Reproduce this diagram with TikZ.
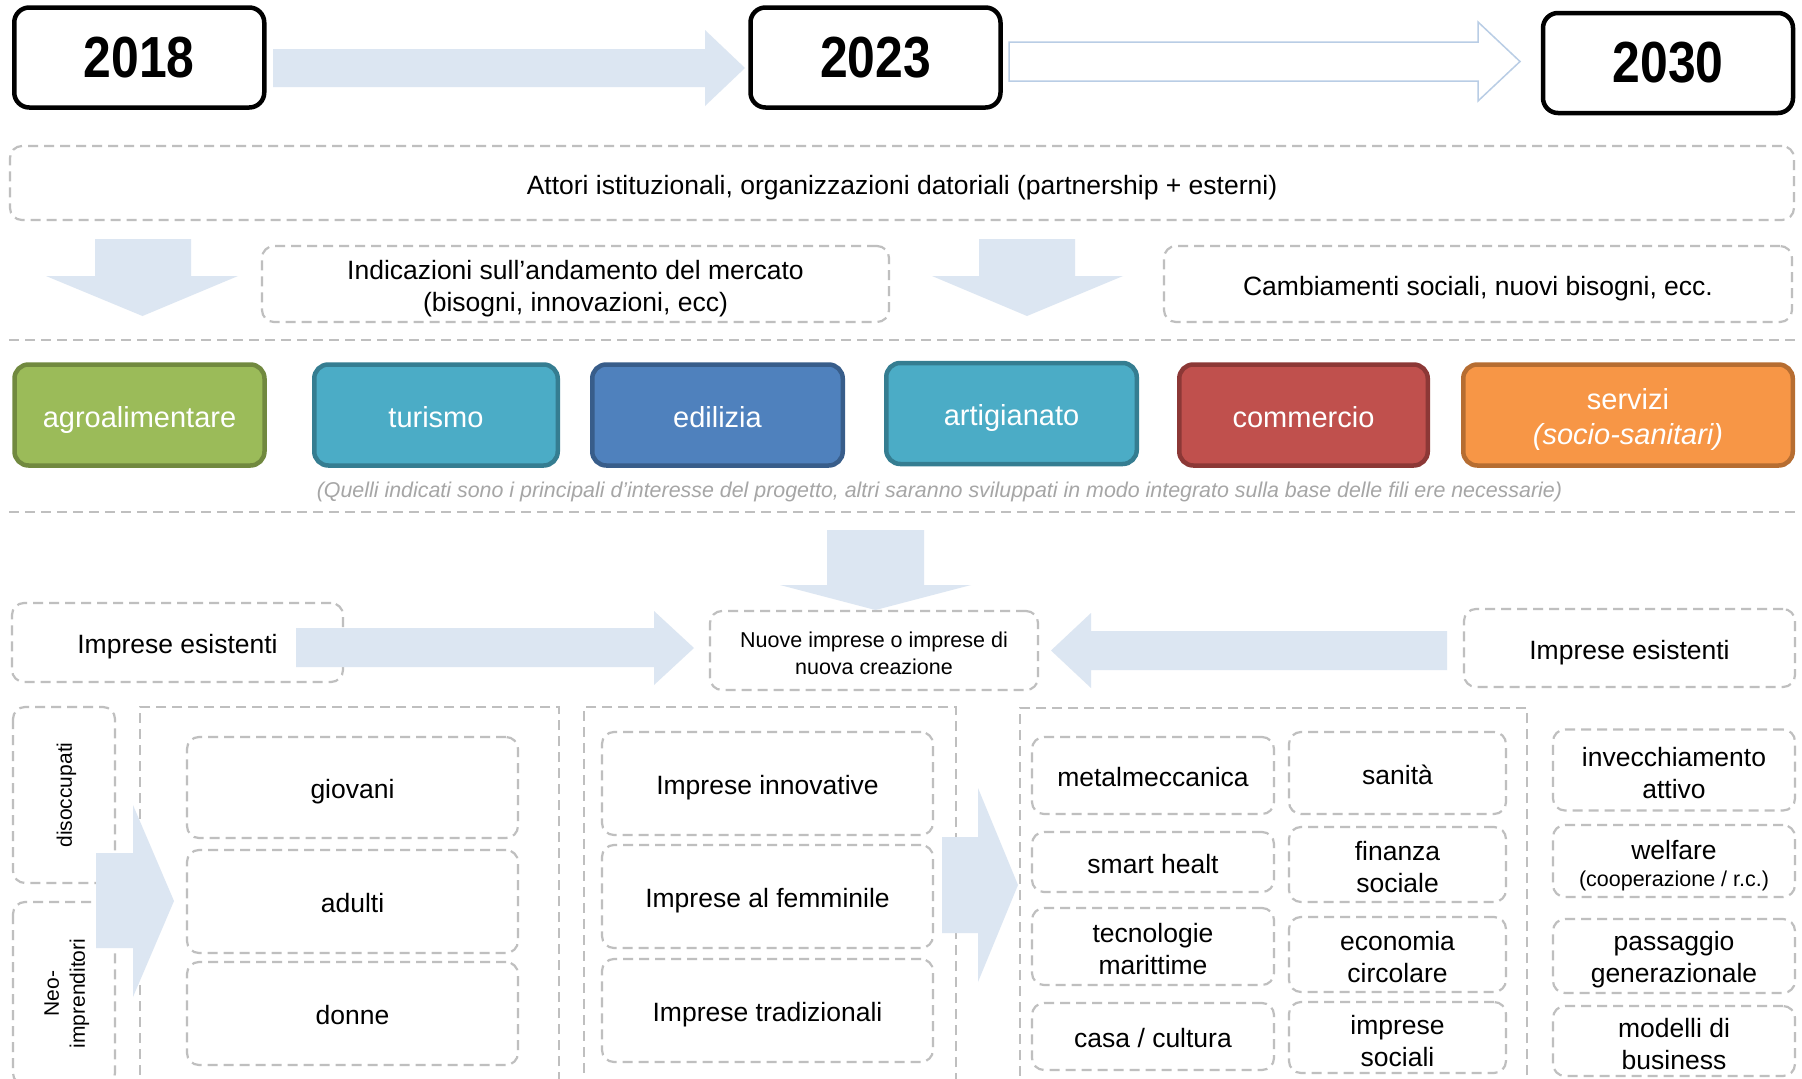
\documentclass[tikz,border=0pt]{standalone}
\usepackage{fontspec}
\setmainfont{Liberation Sans}
\newfontfamily\yearfont[FakeStretch=0.86]{Liberation Sans}
\definecolor{dashgray}{HTML}{BFBFBF}
\definecolor{arrfill}{HTML}{DCE6F2}
\definecolor{arrline}{HTML}{B9CDE5}
\definecolor{notegray}{HTML}{A6A6A6}
\definecolor{agrofill}{HTML}{9BBB59}\definecolor{agroline}{HTML}{71893F}
\definecolor{tealfill}{HTML}{4BACC6}\definecolor{tealline}{HTML}{357D91}
\definecolor{bluefill}{HTML}{4F81BD}\definecolor{blueline}{HTML}{385D8A}
\definecolor{redfill}{HTML}{C0504D}\definecolor{redline}{HTML}{8C3836}
\definecolor{orgfill}{HTML}{F79646}\definecolor{orgline}{HTML}{B66D31}
\newcommand\fsz[2]{\fontsize{#1}{#2}\selectfont}
\newcommand\tst[1]{\rule{0pt}{#1pt}}
\begin{document}
\begin{tikzpicture}[x=1pt,y=-1pt,
  yearbox/.style={draw=black, line width=4.5pt, rounded corners=15pt, fill=white,
    minimum width=250pt, minimum height=100pt, inner sep=0pt,
    font=\yearfont\bfseries\fsz{58}{64}},
  dboxbase/.style={draw=dashgray, line width=2.2pt, dash pattern=on 10pt off 6pt,
    rounded corners=12pt, inner sep=0pt, align=center, font=\fsz{26.5}{32}},
  dbox/.style={dboxbase,
    execute at begin node={\rule{0pt}{28pt}},
    execute at end node={\rule[-6pt]{0pt}{6pt}}},
  grpframe/.style={draw=dashgray, line width=2.2pt, dash pattern=on 10pt off 6pt,
    inner sep=0pt, anchor=north west},
  catbase/.style n args={2}{fill=#1, draw=#2, line width=4.5pt, rounded corners=14pt,
    text=white, inner sep=0pt, align=center, font=\fsz{29}{35}},
  cat/.style n args={2}{catbase={#1}{#2},
    execute at begin node={\rule{0pt}{31pt}},
    execute at end node={\rule[-7pt]{0pt}{7pt}}},
  sepline/.style={draw=dashgray, line width=2pt, dash pattern=on 10pt off 6pt},
  blockarrow/.style={fill=arrfill},
  ]
\useasboundingbox (0,0) rectangle (1802,1079);
\clip (0,0) rectangle (1802,1079);
\fill[white] (0,0) rectangle (1802,1079);

% years
\node[yearbox] (y2018) at (139.25,57.5) {2018};
\node[yearbox] (y2023) at (875.5,57.5) {2023};
\node[yearbox] (y2030) at (1668,63) {2030};

% actors
\node[dbox, minimum width=1784pt, minimum height=74pt] (attori) at (902,183)
  {Attori istituzionali, organizzazioni datoriali (partnership + esterni)};
\node[dboxbase, minimum width=627pt, minimum height=76pt] (indic) at (575.5,284)
  {\tst{28}Indicazioni sull’andamento del mercato\\(bisogni, innovazioni, ecc)};
\node[dbox, minimum width=628pt, minimum height=76pt] (camb) at (1478,284)
  {Cambiamenti sociali, nuovi bisogni, ecc.};

\draw[sepline] (9,340) -- (1795,340);
\draw[sepline] (9,512) -- (1795,512);

% sectors
\node[cat={agrofill}{agroline}, minimum width=250pt, minimum height=101pt] (agro) at (139.5,415) {agroalimentare};
\node[cat={tealfill}{tealline}, minimum width=243.5pt, minimum height=101pt] (turismo) at (436,415) {turismo};
\node[cat={bluefill}{blueline}, minimum width=250.5pt, minimum height=101pt] (edilizia) at (717.5,415) {edilizia};
\node[cat={tealfill}{tealline}, minimum width=250.5pt, minimum height=101pt] (artig) at (1011.5,413.5) {artigianato};
\node[cat={redfill}{redline}, minimum width=248.5pt, minimum height=101pt] (commercio) at (1303.5,415) {commercio};
\node[catbase={orgfill}{orgline}, minimum width=329.5pt, minimum height=101pt] (servizi) at (1628,415) {\tst{29}servizi\\\textit{(socio-sanitari)}};

\node[text=notegray, font=\fsz{21.4}{25}\itshape, inner sep=0pt] (nota) at (939.5,492)
  {(Quelli indicati sono i principali d’interesse del progetto, altri saranno sviluppati in modo integrato sulla base delle fili ere necessarie)};

% enterprises row
\node[dbox, minimum width=331pt, minimum height=79pt] (impL) at (177.5,642.5) {Imprese esistenti};
\node[dboxbase, minimum width=328pt, minimum height=79pt, font=\fsz{21.5}{27}] (nuove) at (874,650.5)
  {\tst{21}Nuove imprese o imprese di\\nuova creazione};
\node[dbox, minimum width=331pt, minimum height=78pt] (impR) at (1629.5,648) {Imprese esistenti};

% left side boxes
\node[dboxbase, rotate=90, minimum width=176pt, minimum height=102pt, font=\fsz{21}{26}] (disocc) at (64,795) {\tst{20}disoccupati};
\node[dboxbase, rotate=90, minimum width=183pt, minimum height=102pt, font=\fsz{21}{26}] (neo) at (64,993.5) {\tst{20}Neo-\\imprenditori};

% group frames
\node[grpframe, minimum width=419pt, minimum height=420pt] (grp1) at (139,706) {};
\node[grpframe, minimum width=372pt, minimum height=420pt] (grp2) at (583,706) {};
\node[grpframe, minimum width=507pt, minimum height=420pt] (grp3) at (1019,707) {};

% group 1
\node[dbox, minimum width=331pt, minimum height=101pt] (giovani) at (352.5,787.5) {giovani};
\node[dbox, minimum width=331pt, minimum height=103pt] (adulti) at (352.5,901.5) {adulti};
\node[dbox, minimum width=331pt, minimum height=103pt] (donne) at (352.5,1013.5) {donne};
% group 2
\node[dbox, minimum width=331pt, minimum height=103pt] (innov) at (767.5,783.5) {Imprese innovative};
\node[dbox, minimum width=331pt, minimum height=103pt] (femm) at (767.5,896.5) {Imprese al femminile};
\node[dbox, minimum width=331pt, minimum height=103pt] (trad) at (767.5,1010.5) {Imprese tradizionali};
% group 3
\node[dbox, minimum width=242pt, minimum height=77pt] (metal) at (1153,775.5) {metalmeccanica};
\node[dbox, minimum width=242pt, minimum height=60pt] (smart) at (1153,862) {smart healt};
\node[dboxbase, minimum width=242pt, minimum height=77pt] (tecno) at (1153,946.5) {\tst{24.5}tecnologie\\marittime};
\node[dbox, minimum width=242pt, minimum height=67pt] (casa) at (1153,1036.5) {casa / cultura};
\node[dbox, minimum width=217pt, minimum height=82pt] (sanita) at (1397.5,773) {sanità};
\node[dboxbase, minimum width=217pt, minimum height=75pt] (finanza) at (1397.5,864.5) {\tst{24.5}finanza\\sociale};
\node[dboxbase, minimum width=217pt, minimum height=75pt] (econ) at (1397.5,954.5) {\tst{23.5}economia\\circolare};
\node[dboxbase, minimum width=217pt, minimum height=71pt] (impsoc) at (1397.5,1037.5) {\tst{25.5}imprese\\sociali};
% right column
\node[dboxbase, minimum width=242pt, minimum height=81pt] (invecch) at (1674,770) {\tst{24.5}invecchiamento\\attivo};
\node[dboxbase, minimum width=242pt, minimum height=72pt] (welfare) at (1674,861) {\tst{29}welfare\\[-5pt]{\fsz{21.5}{25}(cooperazione / r.c.)}};
\node[dboxbase, minimum width=242pt, minimum height=74pt] (passaggio) at (1674,956) {\tst{27}passaggio\\generazionale};
\node[dboxbase, minimum width=242pt, minimum height=70pt] (modelli) at (1674,1041) {\tst{25.5}modelli di\\business};

% block arrows
\fill[blockarrow] (273,49) -- (705,49) -- (705,30) -- (745,68) -- (705,106) -- (705,87) -- (273,87) -- cycle;
\draw[draw=arrline, line width=1.5pt, fill=white] (1009,42) -- (1478,42) -- (1478,22) -- (1520,61.5) -- (1478,101) -- (1478,81) -- (1009,81) -- cycle;
\fill[blockarrow] (95,239) -- (191,239) -- (191,276) -- (238,276) -- (142.5,316) -- (46,276) -- (95,276) -- cycle;
\fill[blockarrow] (979,239) -- (1075,239) -- (1075,276) -- (1123,276) -- (1027,316) -- (932,276) -- (979,276) -- cycle;
\fill[blockarrow] (827,530) -- (924,530) -- (924,585) -- (971,585) -- (875.5,610) -- (780,585) -- (827,585) -- cycle;
\fill[blockarrow] (296,628) -- (654,628) -- (654,611) -- (694,648) -- (654,685) -- (654,667) -- (296,667) -- cycle;
\fill[blockarrow] (1447,631) -- (1091,631) -- (1091,613) -- (1051,650.5) -- (1091,688) -- (1091,670) -- (1447,670) -- cycle;
\fill[blockarrow] (96,853) -- (133,853) -- (133,805) -- (174,901) -- (133,997) -- (133,948) -- (96,948) -- cycle;
\fill[blockarrow] (942,837) -- (978,837) -- (978,788) -- (1018,885) -- (978,982) -- (978,933) -- (942,933) -- cycle;
\end{tikzpicture}
\end{document}
